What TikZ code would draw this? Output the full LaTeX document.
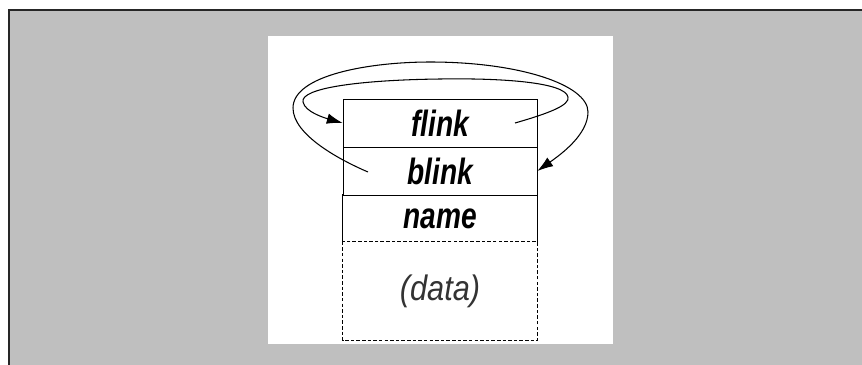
\documentclass[tikz,border=0pt]{standalone}
\usepackage{fontspec}
\setmainfont{Liberation Sans}
\usetikzlibrary{arrows.meta}
\definecolor{panelgray}{HTML}{BFBFBF}
\newcommand{\tall}[1]{\scalebox{1}[1.3]{#1}}
\begin{document}
\begin{tikzpicture}[x=0.02cm,y=-0.02cm,
    field/.style={rectangle,minimum width=3.88cm,minimum height=0.96cm,inner sep=0pt,
                  font=\fontsize{16}{18}\selectfont\bfseries\itshape},
    link/.style={line width=0.6pt,-{Latex[length=9pt,width=6pt]}}]

    \useasboundingbox (0,0) rectangle (862,365);
    \fill[panelgray] (9,10) rectangle (862,365);
    \draw[line width=1.2pt,black!85] (9,365) -- (9,10) -- (862,10);
    \fill[white] (268,36) rectangle (613,344);

    \node[field,draw] (flink) at (440,123) {\tall{flink}};
    \node[field,draw] (blink) at (440,171) {\tall{blink}};
    \node[field] (name) at (440,218.5) {\tall{name}};
    \node[field,minimum height=1.96cm,font=\fontsize{17.5}{20}\selectfont\itshape,text=black!80] (data) at (440,291) {\scalebox{1}[1.15]{(data)}};
    \draw (name.south west) -- (name.north west);
    \draw (name.south east) -- (name.north east);
    \draw[dash pattern=on 2pt off 1.2pt] (data.north west) rectangle (data.south east);

    \coordinate (fstart) at (515,123);
    \coordinate (bstart) at (368,172);

    \draw[link] (fstart) .. controls (550,113) and (570,105) .. (568,97)
        .. controls (565,82) and (500,78) .. (440,79)
        .. controls (360,80) and (300,88) .. (303,102)
        .. controls (305,112) and (325,118) .. (flink.west);
    \draw[link] (bstart) .. controls (340,160) and (293,135) .. (293,108)
        .. controls (293,75) and (370,62) .. (430,62)
        .. controls (520,62) and (588,85) .. (588,112)
        .. controls (588,135) and (560,155) .. (blink.east);
\end{tikzpicture}
\end{document}
